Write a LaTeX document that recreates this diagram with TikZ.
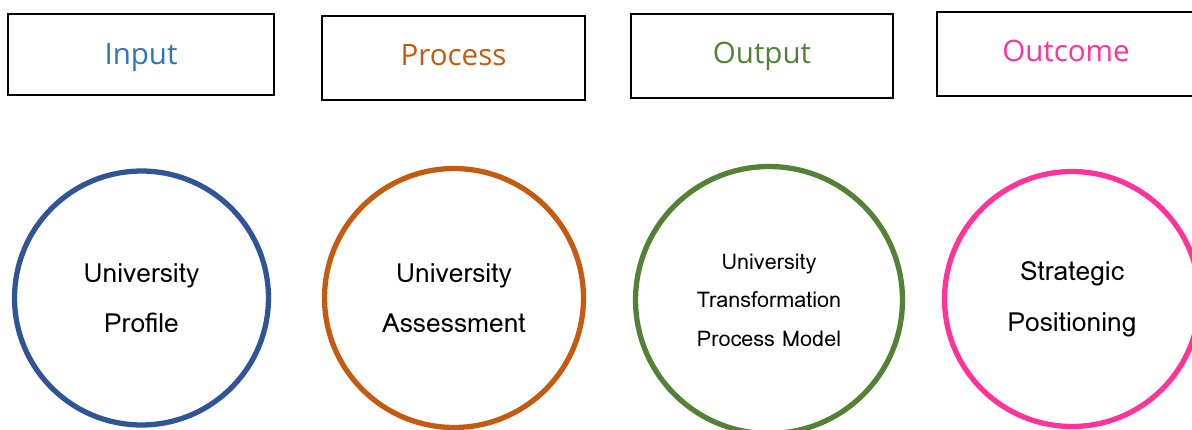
\documentclass[tikz,border=0pt]{standalone}
\usepackage{fontspec}
\setmainfont{Open Sans}
\newfontfamily\circfont{Loma}
\definecolor{inblue}{HTML}{2E75B6}
\definecolor{ringblue}{HTML}{2F5597}
\definecolor{procorange}{HTML}{C55A11}
\definecolor{outgreen}{HTML}{538135}
\definecolor{outpink}{HTML}{FF3399}
\newcommand{\headshift}[2]{\raisebox{#1}[\height][\depth]{#2}}
\begin{document}
\begin{tikzpicture}[x=0.02cm,y=-0.02cm,
  headbox/.style={draw, line width=1.1pt, font=\fontsize{16.8}{20}\selectfont},
  ring/.style={draw, circle, line width=3pt, align=center, font=\circfont\fontsize{15}{28.8}\selectfont}]
\useasboundingbox (0,0) rectangle (1192,429);
\clip (0,0) rectangle (1192,429);

\node[headbox, minimum width=5.32cm, minimum height=1.62cm, text=inblue] (input) at (141,54.5) {\headshift{-1.7pt}{Input}};
\node[headbox, minimum width=5.26cm, minimum height=1.68cm, text=procorange] (process) at (453.5,58) {\headshift{1.7pt}{Process}};
\node[headbox, minimum width=5.24cm, minimum height=1.68cm, text=outgreen] (output) at (762,56) {Output};
\node[headbox, minimum width=5.16cm, minimum height=1.68cm, text=outpink] (outcome) at (1066,54) {\headshift{1.7pt}{Outcome}};

\node[ring, minimum size=5.08cm, ringblue, text=black] (profile) at (141.5,298) {University\\Profile};
\node[ring, minimum size=5.18cm, procorange, text=black] (assess) at (454,298) {University\\Assessment};
\node[ring, minimum size=5.34cm, outgreen, text=black, font=\circfont\fontsize{12.3}{22}\selectfont] (model) at (769,300) {University\\Transformation\\Process Model};
\node[ring, minimum size=5.1cm, outpink, text=black] (strategy) at (1072,299) {Strategic\\Positioning};
\end{tikzpicture}
\end{document}
